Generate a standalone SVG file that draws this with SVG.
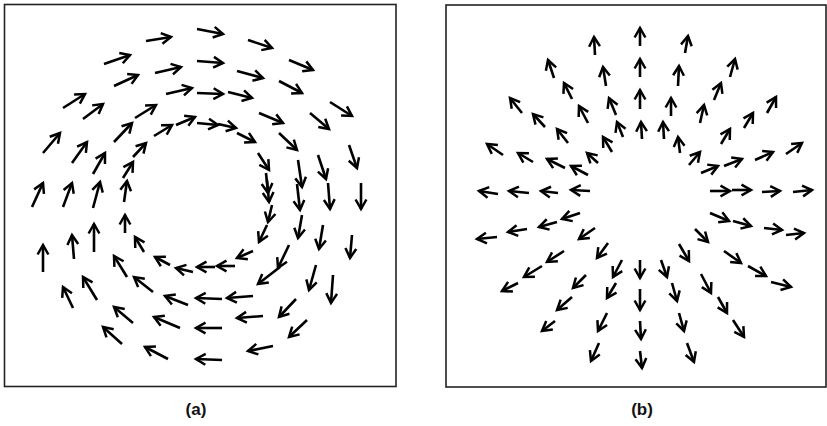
<svg xmlns="http://www.w3.org/2000/svg" width="827" height="426" viewBox="0 0 827 426">
<style>
.frame{fill:none;stroke:#222;stroke-width:1.6}
.ar line{stroke:#000;stroke-width:2.6;stroke-linecap:butt;marker-end:url(#ah)}
.lbl{font-family:"Liberation Sans",Arial,sans-serif;font-size:17px;font-weight:bold;fill:#111;text-anchor:middle}
</style>
<defs>
<marker id="ah" markerUnits="userSpaceOnUse" markerWidth="16" markerHeight="16" viewBox="-13 -8 16 16" refX="0" refY="0" orient="auto">
<path d="M-9.5,-5.4 L0,0 L-9.5,5.4" fill="none" stroke="#000" stroke-width="2.5" stroke-linejoin="miter"/>
</marker>
</defs>
<rect width="827" height="426" fill="#fff"/>
<g id="panel-a">
<rect class="frame" x="4.5" y="4.5" width="391.5" height="382"/>
<g id="arrows-a" class="ar">
<line x1="146" y1="41" x2="171" y2="37"/>
<line x1="197" y1="29" x2="223" y2="34"/>
<line x1="248" y1="40" x2="272" y2="48"/>
<line x1="104" y1="64" x2="130" y2="55"/>
<line x1="197" y1="61" x2="223" y2="63"/>
<line x1="289" y1="60" x2="313" y2="70"/>
<line x1="155" y1="73" x2="181" y2="67"/>
<line x1="237" y1="71" x2="263" y2="78"/>
<line x1="114" y1="86" x2="138" y2="75"/>
<line x1="166" y1="94" x2="192" y2="88"/>
<line x1="197" y1="93" x2="223" y2="94"/>
<line x1="228" y1="92" x2="252" y2="98"/>
<line x1="279" y1="81" x2="302" y2="93"/>
<line x1="63" y1="108" x2="85" y2="94"/>
<line x1="83" y1="119" x2="103" y2="104"/>
<line x1="135" y1="118" x2="156" y2="105"/>
<line x1="176" y1="125" x2="195" y2="117"/>
<line x1="197" y1="123" x2="218" y2="125"/>
<line x1="218" y1="124" x2="236" y2="128"/>
<line x1="259" y1="113" x2="283" y2="123"/>
<line x1="310" y1="113" x2="329" y2="129"/>
<line x1="330" y1="102" x2="352" y2="116"/>
<line x1="154" y1="136" x2="172" y2="125"/>
<line x1="114" y1="142" x2="132" y2="123"/>
<line x1="237" y1="133" x2="255" y2="142"/>
<line x1="279" y1="133" x2="297" y2="150"/>
<line x1="43" y1="153" x2="60" y2="133"/>
<line x1="72" y1="163" x2="87" y2="142"/>
<line x1="133" y1="157" x2="146" y2="143"/>
<line x1="93" y1="174" x2="105" y2="153"/>
<line x1="123" y1="178" x2="133" y2="162"/>
<line x1="258" y1="153" x2="269" y2="170"/>
<line x1="298" y1="160" x2="302" y2="187"/>
<line x1="318" y1="155" x2="326" y2="179"/>
<line x1="349" y1="145" x2="357" y2="168"/>
<line x1="32" y1="207" x2="43" y2="183"/>
<line x1="63" y1="207" x2="72" y2="183"/>
<line x1="93" y1="208" x2="100" y2="182"/>
<line x1="124" y1="202" x2="127" y2="181"/>
<line x1="266" y1="173" x2="268" y2="193"/>
<line x1="267" y1="180" x2="269" y2="202"/>
<line x1="297" y1="184" x2="300" y2="210"/>
<line x1="328" y1="183" x2="330" y2="209"/>
<line x1="361" y1="183" x2="361" y2="209"/>
<line x1="272" y1="205" x2="268" y2="222"/>
<line x1="267" y1="225" x2="259" y2="242"/>
<line x1="302" y1="215" x2="298" y2="238"/>
<line x1="323" y1="225" x2="319" y2="249"/>
<line x1="352" y1="235" x2="350" y2="258"/>
<line x1="125" y1="233" x2="125" y2="215"/>
<line x1="94" y1="252" x2="94" y2="224"/>
<line x1="74" y1="259" x2="72" y2="235"/>
<line x1="43" y1="272" x2="43" y2="245"/>
<line x1="144" y1="252" x2="135" y2="237"/>
<line x1="253" y1="251" x2="237" y2="258"/>
<line x1="170" y1="265" x2="155" y2="257"/>
<line x1="193" y1="272" x2="176" y2="268"/>
<line x1="215" y1="267" x2="197" y2="267"/>
<line x1="235" y1="266" x2="217" y2="266"/>
<line x1="289" y1="245" x2="278" y2="268"/>
<line x1="280" y1="267" x2="258" y2="284"/>
<line x1="316" y1="265" x2="309" y2="290"/>
<line x1="333" y1="275" x2="331" y2="303"/>
<line x1="127" y1="277" x2="114" y2="256"/>
<line x1="153" y1="292" x2="134" y2="277"/>
<line x1="188" y1="305" x2="165" y2="296"/>
<line x1="222" y1="299" x2="196" y2="298"/>
<line x1="253" y1="296" x2="227" y2="298"/>
<line x1="97" y1="300" x2="83" y2="277"/>
<line x1="73" y1="308" x2="63" y2="287"/>
<line x1="296" y1="299" x2="279" y2="317"/>
<line x1="307" y1="320" x2="289" y2="337"/>
<line x1="263" y1="316" x2="237" y2="318"/>
<line x1="222" y1="328" x2="196" y2="328"/>
<line x1="180" y1="328" x2="154" y2="317"/>
<line x1="133" y1="323" x2="114" y2="307"/>
<line x1="122" y1="344" x2="103" y2="327"/>
<line x1="168" y1="359" x2="145" y2="347"/>
<line x1="222" y1="360" x2="196" y2="359"/>
<line x1="273" y1="346" x2="248" y2="351"/>
</g>
<text class="lbl" x="196" y="415">(a)</text>
</g>
<g id="panel-b">
<rect class="frame" x="446" y="5" width="380" height="382"/>
<g id="arrows-b" class="ar">
<line x1="595" y1="55" x2="594" y2="37"/>
<line x1="554" y1="78" x2="548" y2="60"/>
<line x1="606" y1="86" x2="603" y2="67"/>
<line x1="572" y1="99" x2="564" y2="83"/>
<line x1="522" y1="113" x2="510" y2="98"/>
<line x1="588" y1="123" x2="579" y2="106"/>
<line x1="616" y1="115" x2="609" y2="98"/>
<line x1="545" y1="127" x2="533" y2="114"/>
<line x1="568" y1="143" x2="557" y2="129"/>
<line x1="623" y1="137" x2="617" y2="122"/>
<line x1="612" y1="152" x2="603" y2="137"/>
<line x1="503" y1="155" x2="487" y2="144"/>
<line x1="533" y1="162" x2="518" y2="153"/>
<line x1="598" y1="163" x2="587" y2="153"/>
<line x1="565" y1="168" x2="547" y2="159"/>
<line x1="588" y1="175" x2="571" y2="166"/>
<line x1="498" y1="194" x2="479" y2="191"/>
<line x1="529" y1="193" x2="509" y2="191"/>
<line x1="558" y1="193" x2="541" y2="191"/>
<line x1="590" y1="191" x2="571" y2="190"/>
<line x1="640" y1="46" x2="640" y2="28"/>
<line x1="685" y1="53" x2="688" y2="36"/>
<line x1="640" y1="77" x2="640" y2="59"/>
<line x1="678" y1="86" x2="679" y2="66"/>
<line x1="730" y1="77" x2="735" y2="59"/>
<line x1="640" y1="109" x2="640" y2="90"/>
<line x1="671" y1="116" x2="671" y2="98"/>
<line x1="714" y1="100" x2="721" y2="83"/>
<line x1="700" y1="123" x2="704" y2="105"/>
<line x1="767" y1="113" x2="776" y2="97"/>
<line x1="642" y1="139" x2="641" y2="122"/>
<line x1="664" y1="139" x2="663" y2="122"/>
<line x1="744" y1="128" x2="753" y2="113"/>
<line x1="680" y1="153" x2="678" y2="137"/>
<line x1="721" y1="144" x2="730" y2="129"/>
<line x1="689" y1="165" x2="700" y2="152"/>
<line x1="786" y1="154" x2="802" y2="143"/>
<line x1="755" y1="160" x2="773" y2="152"/>
<line x1="701" y1="173" x2="718" y2="166"/>
<line x1="724" y1="166" x2="742" y2="159"/>
<line x1="710" y1="191" x2="730" y2="191"/>
<line x1="732" y1="190" x2="751" y2="190"/>
<line x1="762" y1="192" x2="780" y2="191"/>
<line x1="793" y1="192" x2="812" y2="190"/>
<line x1="580" y1="213" x2="562" y2="219"/>
<line x1="557" y1="222" x2="539" y2="227"/>
<line x1="527" y1="229" x2="508" y2="232"/>
<line x1="497" y1="237" x2="477" y2="239"/>
<line x1="595" y1="228" x2="579" y2="239"/>
<line x1="608" y1="243" x2="597" y2="258"/>
<line x1="564" y1="251" x2="547" y2="262"/>
<line x1="542" y1="266" x2="524" y2="277"/>
<line x1="622" y1="260" x2="613" y2="277"/>
<line x1="518" y1="283" x2="502" y2="291"/>
<line x1="586" y1="275" x2="573" y2="288"/>
<line x1="616" y1="283" x2="607" y2="298"/>
<line x1="572" y1="297" x2="557" y2="310"/>
<line x1="607" y1="313" x2="598" y2="331"/>
<line x1="555" y1="321" x2="542" y2="331"/>
<line x1="599" y1="343" x2="591" y2="361"/>
<line x1="710" y1="213" x2="729" y2="221"/>
<line x1="733" y1="221" x2="751" y2="226"/>
<line x1="764" y1="228" x2="782" y2="230"/>
<line x1="786" y1="235" x2="804" y2="233"/>
<line x1="695" y1="229" x2="708" y2="242"/>
<line x1="724" y1="251" x2="741" y2="263"/>
<line x1="679" y1="244" x2="689" y2="261"/>
<line x1="748" y1="266" x2="766" y2="276"/>
<line x1="771" y1="282" x2="791" y2="287"/>
<line x1="640" y1="260" x2="640" y2="278"/>
<line x1="661" y1="260" x2="667" y2="277"/>
<line x1="701" y1="274" x2="711" y2="293"/>
<line x1="672" y1="283" x2="677" y2="301"/>
<line x1="640" y1="289" x2="640" y2="310"/>
<line x1="718" y1="297" x2="727" y2="313"/>
<line x1="679" y1="313" x2="684" y2="331"/>
<line x1="640" y1="321" x2="641" y2="339"/>
<line x1="733" y1="320" x2="744" y2="337"/>
<line x1="687" y1="343" x2="694" y2="362"/>
<line x1="640" y1="351" x2="642" y2="368"/>
</g>
<text class="lbl" x="642" y="415">(b)</text>
</g>
</svg>
